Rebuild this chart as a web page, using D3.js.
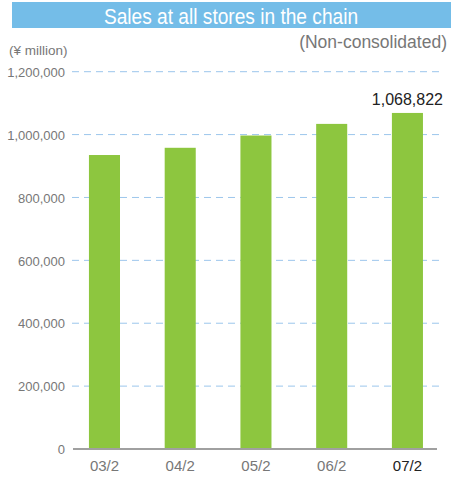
<!DOCTYPE html>
<html>
<head>
<meta charset="utf-8">
<script src="https://cdn.jsdelivr.net/npm/d3@7"></script>
<style>
  html, body { margin: 0; padding: 0; background: #fff; }
  svg { display: block; }
</style>
</head>
<body>
<svg id="chart" width="451" height="477"></svg>
<script>
// Fiscal years (February year-end)
const periods = ["03/2", "04/2", "05/2", "06/2", "07/2"];
// Chain-wide store sales, ¥ million
const sales = [935000, 958000, 997000, 1034000, 1068822];
// Value axis ticks
const yTicks = [0, 200000, 400000, 600000, 800000, 1000000, 1200000];

const title = "Sales at all stores in the chain";
const unitLabel = "(¥ million)";
const noteLabel = "(Non-consolidated)";

const svg = d3.select("#chart");
const W = 451, H = 477;
const font = "'Liberation Sans', Arial, sans-serif";

const x = d3.scaleBand()
  .domain(periods)
  .range([66.6, 445.3])
  .paddingInner(0.59)
  .paddingOuter(0.295);

const y = d3.scaleLinear()
  .domain([0, 1200000])
  .range([449, 71.7]);

// Header band
svg.append("rect")
  .attr("x", 12).attr("y", 2)
  .attr("width", W - 12).attr("height", 26)
  .attr("fill", "#74bde8");
// Title drawn condensed: squeeze horizontally around the band centre
svg.append("text")
  .attr("transform", "translate(231,23.5) scale(0.89,1)")
  .attr("text-anchor", "middle")
  .attr("fill", "#fff")
  .style("font-family", font)
  .style("font-size", "21.5px")
  .text(title);

svg.append("text")
  .attr("x", 9).attr("y", 55)
  .attr("fill", "#777")
  .style("font-family", font)
  .style("font-size", "13.5px")
  .text(unitLabel);

svg.append("text")
  .attr("x", 447).attr("y", 48)
  .attr("text-anchor", "end")
  .attr("fill", "#777")
  .style("font-family", font)
  .style("font-size", "17.5px")
  .text(noteLabel);

// Dashed gridlines + y labels
const yAxis = d3.axisLeft(y)
  .tickValues(yTicks)
  .tickFormat(d3.format(","))
  .tickSize(0)
  .tickPadding(0);
const gy = svg.append("g").attr("transform", "translate(65,0)").call(yAxis);
gy.select(".domain").remove();
gy.selectAll("text")
  .attr("fill", "#777")
  .attr("dy", "0.36em")
  .style("font-family", font)
  .style("font-size", "13px");

svg.append("g").selectAll("line")
  .data(yTicks.filter(d => d > 0))
  .join("line")
  .attr("x1", 72).attr("x2", 442)
  .attr("y1", d => y(d)).attr("y2", d => y(d))
  .attr("stroke", "#9cc6ec")
  .attr("stroke-width", 1)
  .attr("stroke-dasharray", "7,5");

// Bars
svg.append("g").selectAll("rect")
  .data(periods.map((p, i) => ({ p, v: sales[i] })))
  .join("rect")
  .attr("x", d => x(d.p))
  .attr("y", d => y(d.v))
  .attr("width", x.bandwidth())
  .attr("height", d => y(0) - y(d.v))
  .attr("fill", "#8dc63f");

// Baseline
svg.append("line")
  .attr("x1", 73).attr("x2", 437)
  .attr("y1", y(0)).attr("y2", y(0))
  .attr("stroke", "#a0a0a0")
  .attr("stroke-width", 2);

// Category labels
const xAxis = d3.axisBottom(x).tickSize(0).tickPadding(0);
const gx = svg.append("g").attr("transform", "translate(0,471)").call(xAxis);
gx.select(".domain").remove();
gx.selectAll("text")
  .attr("y", 0).attr("dy", 0)
  .attr("fill", (d, i) => i === periods.length - 1 ? "#222" : "#777")
  .style("font-family", font)
  .style("font-size", "15px");

// Latest value label
const last = periods.length - 1;
svg.append("text")
  .attr("x", x(periods[last]) + x.bandwidth() / 2)
  .attr("y", y(sales[last]) - 8)
  .attr("text-anchor", "middle")
  .attr("fill", "#222")
  .style("font-family", font)
  .style("font-size", "16px")
  .text(d3.format(",")(sales[last]));
</script>
</body>
</html>
